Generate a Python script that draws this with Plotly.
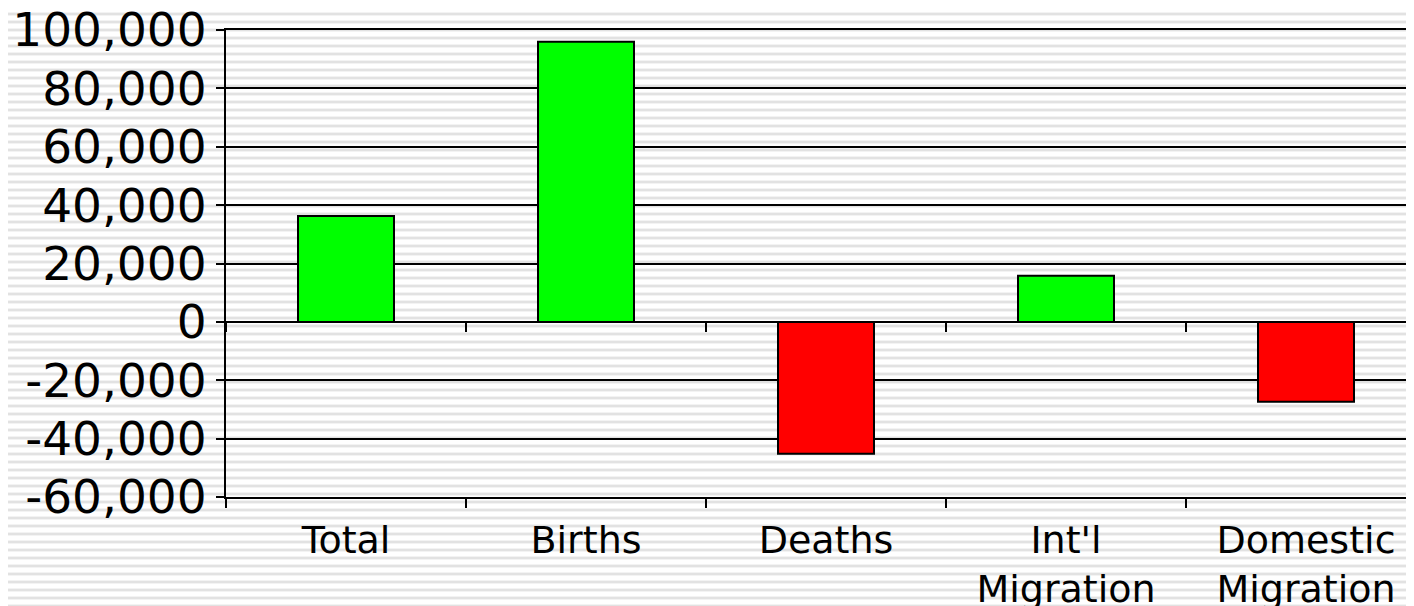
import base64
import plotly.graph_objects as go

categories = ["Total", "Births", "Deaths", "Int'l<br>Migration", "Domestic<br>Migration"]
values = [36300, 96000, -45200, 15800, -27400]
tick_values = [-60000, -40000, -20000, 0, 20000, 40000, 60000, 80000, 100000]
tick_labels = ["-60,000", "-40,000", "-20,000", "0", "20,000", "40,000", "60,000", "80,000", "100,000"]

GREEN = "#00ff00"
RED = "#ff0000"
colors = [GREEN if v >= 0 else RED for v in values]

# page body has an 8px default margin, compensate in figure margins
W, H = 1414, 606
ML, MT, MB, MR = 218, 22, 117, 0
plot_w = W - ML - MR
plot_h = H - MT - MB

# striped background pattern (decorative)
svg = (
    f'<svg xmlns="http://www.w3.org/2000/svg" width="{W}" height="{H}">'
    '<defs><pattern id="p" width="8" height="8" patternUnits="userSpaceOnUse">'
    '<rect width="8" height="8" fill="#ffffff"/>'
    '<rect y="4" width="8" height="1" fill="#f3f3f3"/>'
    '<rect y="5" width="8" height="2" fill="#e2e2e2"/>'
    '<rect y="7" width="8" height="1" fill="#f3f3f3"/>'
    '</pattern></defs>'
    f'<rect width="{W}" height="{H}" fill="url(#p)"/></svg>'
)
svg_uri = "data:image/svg+xml;base64," + base64.b64encode(svg.encode()).decode()

fig = go.Figure()
fig.add_trace(go.Bar(
    x=categories, y=values, width=0.4,
    marker=dict(color=colors, line=dict(color="black", width=2)),
    hoverinfo="x+y",
))
# helper trace to draw the tick axis along zero line
fig.add_trace(go.Scatter(
    x=categories, y=values, xaxis="x2", mode="markers",
    marker=dict(opacity=0), hoverinfo="skip", showlegend=False,
))

x_range = [-0.5, -0.5 + plot_w / 240.0]
y_min, y_max = tick_values[0], tick_values[-1]
zero_frac = (0 - y_min) / (y_max - y_min)

fig.update_layout(
    width=W, height=H,
    margin=dict(l=ML, r=MR, t=MT, b=MB, pad=0, autoexpand=False),
    paper_bgcolor="white",
    plot_bgcolor="rgba(0,0,0,0)",
    showlegend=False,
    bargap=0.6,
    font=dict(family="DejaVu Sans, Verdana, sans-serif", color="black"),
    images=[dict(
        source=svg_uri, xref="paper", yref="paper",
        x=-ML / plot_w, y=1 + MT / plot_h,
        sizex=W / plot_w, sizey=H / plot_h,
        xanchor="left", yanchor="top", sizing="stretch", layer="below",
    )],
    xaxis=dict(
        type="category", categoryorder="array", categoryarray=categories,
        range=x_range, showgrid=False, zeroline=False, automargin=False,
        showline=True, linecolor="black", linewidth=2, mirror=True,
        ticks="outside", tickson="boundaries", ticklen=9, tickwidth=2, tickcolor="black",
        tickfont=dict(size=38, color="black"), ticklabelstandoff=8,
        ticklabeloverflow="allow",
    ),
    xaxis2=dict(
        type="category", categoryorder="array", categoryarray=categories,
        range=x_range, overlaying="x", anchor="free", position=zero_frac,
        showgrid=False, zeroline=False, showline=False, automargin=False,
        ticks="outside", tickson="boundaries", ticklen=9, tickwidth=2, tickcolor="black",
        showticklabels=False,
    ),
    yaxis=dict(
        range=[y_min, y_max], tickvals=tick_values, ticktext=tick_labels,
        showgrid=True, gridcolor="black", gridwidth=2, automargin=False,
        zeroline=True, zerolinecolor="black", zerolinewidth=2,
        showline=True, linecolor="black", linewidth=2,
        ticks="outside", ticklen=8, tickwidth=2, tickcolor="black",
        tickfont=dict(size=47, color="black"),
        ticklabeloverflow="allow",
    ),
)

fig.write_html("out.html")
